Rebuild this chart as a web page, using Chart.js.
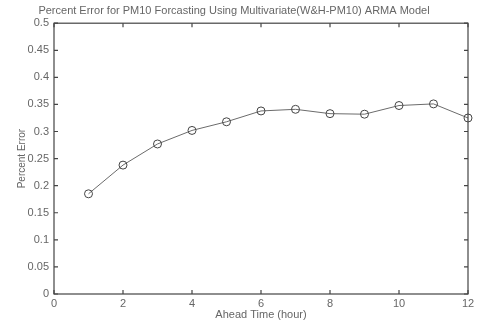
<!DOCTYPE html>
<html>
<head>
<meta charset="utf-8">
<script src="https://cdn.jsdelivr.net/npm/chart.js@4/dist/chart.umd.min.js"></script>
<style>
  html, body { margin: 0; padding: 0; background: #fff; }
  #wrap { width: 484px; height: 327px; }
</style>
</head>
<body>
<div id="wrap"><canvas id="errChart" width="484" height="327"></canvas></div>
<script>
// Forecast horizon (hours) and percent error of the ARMA model
const aheadHours = [1, 2, 3, 4, 5, 6, 7, 8, 9, 10, 11, 12];
const percentError = [0.185, 0.238, 0.277, 0.302, 0.318, 0.338, 0.341, 0.333, 0.332, 0.348, 0.351, 0.325];
const xTicks = [0, 2, 4, 6, 8, 10, 12];
const yTicks = [0, 0.05, 0.1, 0.15, 0.2, 0.25, 0.3, 0.35, 0.4, 0.45, 0.5];

const textGrey = '#666666';
const fontFamily = '"Liberation Sans", Arial, sans-serif';

// box round the plot with short inward ticks on every side
const boxTicks = {
    id: 'boxTicks',
    afterDraw: function(chart) {
        const c = chart.ctx;
        const a = chart.chartArea;
        const sx = chart.scales.x;
        const sy = chart.scales.y;
        const len = 4;
        c.save();
        c.strokeStyle = '#444444';
        c.lineWidth = 1.2;
        c.strokeRect(a.left, a.top, a.right - a.left, a.bottom - a.top);
        xTicks.forEach(function(v) {
            const px = sx.getPixelForValue(v);
            c.beginPath();
            c.moveTo(px, a.bottom); c.lineTo(px, a.bottom - len);
            c.moveTo(px, a.top); c.lineTo(px, a.top + len);
            c.stroke();
        });
        yTicks.forEach(function(v) {
            const py = sy.getPixelForValue(v);
            c.beginPath();
            c.moveTo(a.left, py); c.lineTo(a.left + len, py);
            c.moveTo(a.right, py); c.lineTo(a.right - len, py);
            c.stroke();
        });
        c.restore();
    }
};

document.addEventListener('DOMContentLoaded', function() {
    const ctx = document.getElementById('errChart').getContext('2d');
    new Chart(ctx, {
        type: 'line',
        data: {
            datasets: [{
                label: 'Percent Error',
                data: aheadHours.map(function(h, i) { return { x: h, y: percentError[i] }; }),
                borderColor: '#6b6b6b',
                borderWidth: 1,
                pointRadius: 4,
                pointBorderWidth: 1,
                pointBorderColor: '#444444',
                pointBackgroundColor: 'rgba(0,0,0,0)',
                clip: false,
                tension: 0
            }]
        },
        options: {
            responsive: false,
            animation: false,
            layout: { padding: { left: 0, right: 16, top: 0, bottom: 0 } },
            plugins: {
                legend: { display: false },
                tooltip: { enabled: false },
                title: {
                    display: true,
                    text: 'Percent Error for PM10 Forcasting Using Multivariate(W&H-PM10) ARMA Model',
                    color: textGrey,
                    font: { family: fontFamily, size: 11, weight: 'normal' },
                    padding: { top: 4, bottom: 6 }
                }
            },
            scales: {
                x: {
                    type: 'linear',
                    min: 0,
                    max: 12,
                    afterBuildTicks: function(scale) { scale.ticks = xTicks.map(function(v) { return { value: v }; }); },
                    grid: { display: false, drawTicks: false },
                    border: { display: false },
                    ticks: { color: textGrey, padding: 3, maxRotation: 0, font: { family: fontFamily, size: 11 } },
                    title: {
                        display: true,
                        text: 'Ahead Time (hour)',
                        color: textGrey,
                        font: { family: fontFamily, size: 11 },
                        padding: { top: 0, bottom: 5 }
                    },
                    afterFit: function(scale) { scale.height = 33; }
                },
                y: {
                    min: 0,
                    max: 0.5,
                    afterBuildTicks: function(scale) { scale.ticks = yTicks.map(function(v) { return { value: v }; }); },
                    grid: { display: false, drawTicks: false },
                    border: { display: false },
                    ticks: {
                        color: textGrey,
                        padding: 5,
                        font: { family: fontFamily, size: 11 },
                        callback: function(v) { return String(Number(v.toFixed(2))); }
                    },
                    title: {
                        display: true,
                        text: 'Percent Error',
                        color: textGrey,
                        font: { family: fontFamily, size: 10 },
                        padding: { top: 16, bottom: 0 }
                    },
                    afterFit: function(scale) { scale.width = 54; }
                }
            }
        },
        plugins: [boxTicks]
    });
});
</script>
</body>
</html>
